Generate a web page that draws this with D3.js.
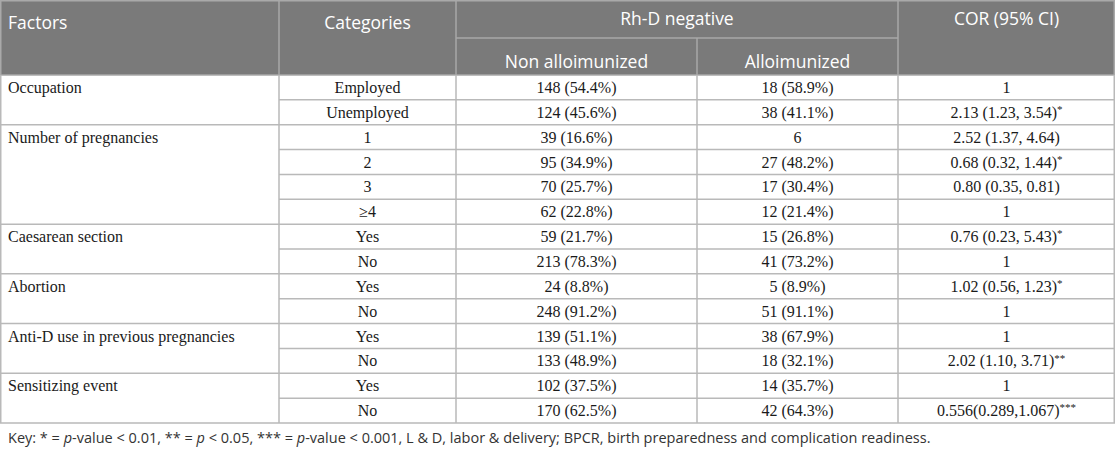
<!DOCTYPE html>
<html><head><meta charset="utf-8">
<script src="https://cdn.jsdelivr.net/npm/d3@7"></script>
<style>body{margin:0;background:#fff}svg{display:block}</style>
</head><body><svg id="c" width="1116" height="451"></svg>
<script>
// ---- data ----
const factors = ["Occupation","Number of pregnancies","Caesarean section","Abortion","Anti-D use in previous pregnancies","Sensitizing event"];
const groupSizes = [2,4,2,2,2,2];
const categories = ["Employed","Unemployed","1","2","3","≥4","Yes","No","Yes","No","Yes","No","Yes","No"];
const nonAlloCount = [148,124,39,95,70,62,59,213,24,248,139,133,102,170];
const nonAlloPct = ["54.4","45.6","16.6","34.9","25.7","22.8","21.7","78.3","8.8","91.2","51.1","48.9","37.5","62.5"];
const alloCount = [18,38,6,27,17,12,15,41,5,51,38,18,14,42];
const alloPct = ["58.9","41.1",null,"48.2","30.4","21.4","26.8","73.2","8.9","91.1","67.9","32.1","35.7","64.3"];
const corText = ["1","2.13 (1.23, 3.54)","2.52 (1.37, 4.64)","0.68 (0.32, 1.44)","0.80 (0.35, 0.81)","1","0.76 (0.23, 5.43)","1","1.02 (0.56, 1.23)","1","1","2.02 (1.10, 3.71)","1","0.556(0.289,1.067)"];
const corStars = ["","*","","*","","","*","","*","","","**","","***"];
const headers = ["Factors","Categories","Rh-D negative","COR (95% CI)"];
const subHeaders = ["Non alloimunized","Alloimunized"];

// ---- layout ----
const svg = d3.select("#c");
const colEdges = [0,279,456,697,898,1115];
const headTop = 0, headMid = 38, headBot = 75, tableBot = 423;
const nRows = categories.length;
const y = d3.scaleBand().domain(d3.range(nRows)).range([headBot, tableBot]).paddingInner(0).paddingOuter(0);
const gridCol = "#b9b9b9", headBg = "#7a7a7a", headLine = "#a9a9a9";
const serif = "'Liberation Serif', 'Times New Roman', serif";
const sans = "'Open Sans', 'Noto Sans', sans-serif";

// header background
svg.append("rect").attr("x",colEdges[0]).attr("y",headTop).attr("width",colEdges[5]-colEdges[0]).attr("height",headBot-headTop).attr("fill",headBg);
// header lines
const hl = svg.append("g").attr("stroke",headLine).attr("stroke-width",1.5);
[1,2,4].forEach(i=>hl.append("line").attr("x1",colEdges[i]).attr("x2",colEdges[i]).attr("y1",headTop).attr("y2",headBot));
hl.append("line").attr("x1",colEdges[3]).attr("x2",colEdges[3]).attr("y1",headMid).attr("y2",headBot);
hl.append("line").attr("x1",colEdges[2]).attr("x2",colEdges[4]).attr("y1",headMid).attr("y2",headMid);
hl.append("rect").attr("x",colEdges[0]+0.75).attr("y",headTop+0.75).attr("width",colEdges[5]-colEdges[0]-1.5).attr("height",headBot-headTop-0.75).attr("fill","none");

// header text
const ht = svg.append("g").attr("fill","#fff").attr("font-family",sans).attr("font-size",17.5);
ht.append("text").attr("x",colEdges[0]+8).attr("y",29).text(headers[0]);
ht.append("text").attr("x",(colEdges[1]+colEdges[2])/2).attr("y",29).attr("text-anchor","middle").text(headers[1]);
ht.append("text").attr("x",(colEdges[2]+colEdges[4])/2).attr("y",25).attr("text-anchor","middle").text(headers[2]);
ht.append("text").attr("x",(colEdges[4]+colEdges[5])/2).attr("y",25).attr("text-anchor","middle").text(headers[3]);
subHeaders.forEach((s,i)=>ht.append("text").attr("x",(colEdges[2+i]+colEdges[3+i])/2).attr("y",68).attr("text-anchor","middle").text(s));

// body grid
const g = svg.append("g").attr("stroke",gridCol).attr("stroke-width",1.5);
const groupStart = [];
let acc = 0; groupSizes.forEach(s=>{groupStart.push(acc); acc+=s;});
d3.range(1,nRows).forEach(r=>{
  const full = groupStart.includes(r);
  g.append("line").attr("x1",full?colEdges[0]:colEdges[1]).attr("x2",colEdges[5]).attr("y1",y(r)).attr("y2",y(r));
});
g.append("line").attr("x1",colEdges[0]).attr("x2",colEdges[5]).attr("y1",tableBot).attr("y2",tableBot);
colEdges.forEach((cx,i)=>{
  const xx = i===0?cx+0.75:(i===colEdges.length-1?cx-0.75:cx);
  g.append("line").attr("x1",xx).attr("x2",xx).attr("y1",headBot).attr("y2",tableBot);
});

// body text
const bt = svg.append("g").attr("fill","#1a1a1a").attr("font-family",serif).attr("font-size",16);
factors.forEach((f,i)=>{
  const r = groupStart[i];
  bt.append("text").attr("x",colEdges[0]+8).attr("y",y(r)+y.bandwidth()/2).attr("dy","0.35em").text(f);
});
const mid = r => y(r)+y.bandwidth()/2;
categories.forEach((c,r)=>{
  bt.append("text").attr("x",(colEdges[1]+colEdges[2])/2).attr("y",mid(r)).attr("dy","0.35em").attr("text-anchor","middle").text(c);
  bt.append("text").attr("x",(colEdges[2]+colEdges[3])/2).attr("y",mid(r)).attr("dy","0.35em").attr("text-anchor","middle").text(nonAlloCount[r]+" ("+nonAlloPct[r]+"%)");
  bt.append("text").attr("x",(colEdges[3]+colEdges[4])/2).attr("y",mid(r)).attr("dy","0.35em").attr("text-anchor","middle").text(alloPct[r]===null?String(alloCount[r]):alloCount[r]+" ("+alloPct[r]+"%)");
  const t = bt.append("text").attr("x",(colEdges[4]+colEdges[5])/2).attr("y",mid(r)).attr("dy","0.35em").attr("text-anchor","middle");
  t.append("tspan").text(corText[r]);
  if (corStars[r]) t.append("tspan").attr("font-size",11).attr("dy","-0.45em").text(corStars[r]);
});

// key
const key = svg.append("text").attr("x",8).attr("y",443).attr("font-family",sans).attr("font-size",14.5).attr("fill","#333");
const parts = [["Key: * = ",false],["p",true],["-value < 0.01, ** = ",false],["p",true],[" < 0.05, *** = ",false],["p",true],["-value < 0.001, L & D, labor & delivery; BPCR, birth preparedness and complication readiness.",false]];
parts.forEach(([s,it])=>key.append("tspan").attr("font-style",it?"italic":"normal").text(s));
</script>
</body></html>
